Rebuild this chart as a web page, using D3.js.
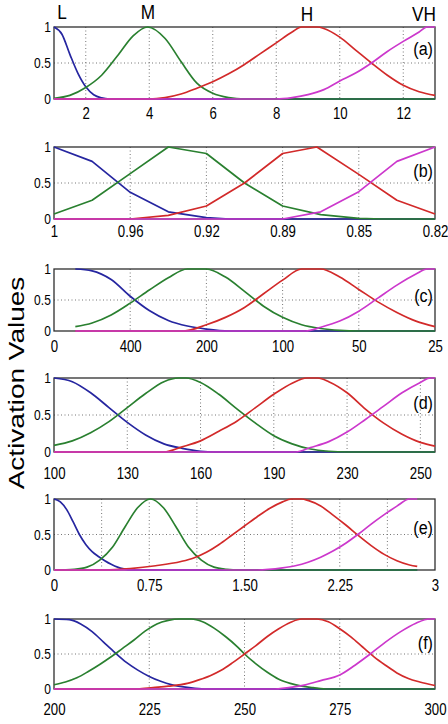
<!DOCTYPE html>
<html>
<head>
<meta charset="utf-8">
<script src="https://cdn.jsdelivr.net/npm/d3@7"></script>
<style>
  html, body { margin: 0; padding: 0; background: #fff; }
  svg { display: block; }
  text { font-family: "Liberation Sans", Arial, Helvetica, sans-serif; }
</style>
</head>
<body>
<svg id="chart"></svg>
<script>
// membership labels shown above the first panel
const memLabels = ['L', 'M', 'H', 'VH'];

// (a) linear axis 1..13
const aTicks = [2, 4, 6, 8, 10, 12];
const aBlue = [[1,1],[1.25,0.9],[1.5,0.62],[1.75,0.36],[2,0.17],[2.25,0.06],[2.5,0.015],[2.75,0],[13,0]];
const aGreen = [[1,0.01],[1.5,0.05],[2,0.16],[2.5,0.33],[3,0.6],[3.5,0.88],[3.95,1],[4.5,0.84],[5,0.52],[5.5,0.22],[6,0.08],[6.5,0.02],[7,0],[13,0]];
const aRed = [[1,0],[4,0],[4.5,0.02],[5,0.07],[5.5,0.15],[6,0.24],[6.5,0.35],[7,0.48],[7.5,0.63],[8,0.78],[8.5,0.93],[8.8,1],[9.3,1],[9.5,0.98],[10,0.86],[10.5,0.68],[11,0.5],[11.5,0.33],[12,0.19],[12.5,0.1],[13,0.05]];
const aMagenta = [[1,0],[8,0],[8.5,0.02],[9,0.06],[9.5,0.13],[10,0.25],[10.5,0.36],[11,0.5],[11.5,0.66],[12,0.8],[12.5,0.93],[12.75,1],[13,1]];

// (b) categorical axis, x given as category index
const bLabels = ['1', '0.96', '0.92', '0.89', '0.85', '0.82'];
const bBlue = [[0,1],[0.5,0.8],[1,0.37],[1.5,0.1],[2,0.02],[2.3,0],[5,0]];
const bGreen = [[0,0.07],[0.5,0.26],[1,0.63],[1.5,1],[2,0.91],[2.5,0.5],[3,0.18],[3.5,0.06],[4,0.01],[4.3,0],[5,0]];
const bRed = [[0,0],[1,0],[1.5,0.05],[2,0.18],[2.5,0.5],[3,0.91],[3.45,1],[4,0.62],[4.5,0.26],[5,0.07]];
const bMagenta = [[0,0],[3,0],[3.5,0.1],[4,0.38],[4.5,0.8],[5,1]];

// (c) categorical axis
const cLabels = ['0', '400', '200', '100', '50', '25'];
const cBlue = [[0.28,1],[0.5,0.97],[0.75,0.83],[1,0.56],[1.25,0.33],[1.5,0.17],[1.75,0.08],[2,0.03],[2.3,0],[5,0]];
const cGreen = [[0.28,0.07],[0.5,0.13],[0.75,0.26],[1,0.45],[1.25,0.66],[1.5,0.86],[1.75,1],[2,1],[2.25,0.87],[2.5,0.64],[2.75,0.4],[3,0.22],[3.25,0.1],[3.5,0.04],[3.75,0.01],[4,0],[5,0]];
const cRed = [[0.28,0],[1.7,0],[2,0.1],[2.25,0.22],[2.5,0.38],[2.75,0.6],[3,0.82],[3.25,1],[3.5,1],[3.75,0.87],[4,0.67],[4.25,0.47],[4.5,0.3],[4.75,0.16],[5,0.07]];
const cMagenta = [[0.28,0],[3.3,0],[3.5,0.06],[3.75,0.16],[4,0.32],[4.25,0.53],[4.5,0.74],[4.75,0.92],[4.9,1],[5,1]];

// (d) categorical axis, plot runs a bit past the last category
const dLabels = ['100', '130', '160', '190', '230', '250'];
const dBlue = [[0,1],[0.25,0.95],[0.5,0.8],[0.75,0.6],[1,0.4],[1.25,0.23],[1.5,0.11],[1.75,0.05],[2,0.01],[2.2,0],[5.2,0]];
const dGreen = [[0,0.09],[0.25,0.15],[0.5,0.26],[0.75,0.41],[1,0.6],[1.25,0.79],[1.5,0.95],[1.7,1],[1.8,1],[2,0.94],[2.25,0.78],[2.5,0.58],[2.75,0.39],[3,0.22],[3.25,0.11],[3.5,0.04],[3.75,0.01],[4,0],[5.2,0]];
const dRed = [[0,0],[1.5,0],[1.75,0.07],[2,0.15],[2.25,0.28],[2.5,0.42],[2.75,0.6],[3,0.78],[3.25,0.93],[3.45,1],[3.6,1],[3.75,0.95],[4,0.8],[4.25,0.58],[4.5,0.39],[4.75,0.24],[5,0.13],[5.2,0.08]];
const dMagenta = [[0,0],[3.3,0],[3.5,0.06],[3.75,0.14],[4,0.27],[4.25,0.44],[4.5,0.62],[4.75,0.8],[5,0.94],[5.13,1],[5.2,1]];

// (e) linear axis 0..3
const eTicks = [0, 0.75, 1.5, 2.25, 3];
const eTickLabels = ['0', '0.75', '1.50', '2.25', '3'];
const eGrid = [0.375, 0.75, 1.125, 1.5, 1.875, 2.25, 2.625];
const eBlue = [[0,1],[0.05,0.96],[0.1,0.85],[0.15,0.68],[0.2,0.5],[0.25,0.36],[0.3,0.26],[0.35,0.19],[0.4,0.13],[0.45,0.08],[0.5,0.04],[0.55,0.015],[0.6,0],[2.86,0]];
const eGreen = [[0,0],[0.16,0.01],[0.26,0.04],[0.36,0.14],[0.46,0.32],[0.56,0.61],[0.66,0.88],[0.76,1],[0.86,0.88],[0.96,0.61],[1.06,0.32],[1.16,0.14],[1.26,0.04],[1.36,0.01],[1.46,0],[2.86,0]];
const eRed = [[0,0],[0.4,0],[0.6,0.02],[0.8,0.06],[1,0.12],[1.1,0.17],[1.2,0.25],[1.3,0.36],[1.4,0.49],[1.5,0.62],[1.6,0.75],[1.7,0.87],[1.8,0.96],[1.87,1],[1.95,1],[2,0.98],[2.1,0.9],[2.2,0.77],[2.3,0.63],[2.4,0.48],[2.5,0.34],[2.6,0.22],[2.7,0.13],[2.8,0.07],[2.86,0.05]];
const eMagenta = [[0,0],[1.6,0],[1.8,0.03],[1.9,0.06],[2,0.11],[2.1,0.18],[2.2,0.27],[2.3,0.38],[2.4,0.51],[2.5,0.65],[2.6,0.78],[2.7,0.9],[2.8,1],[2.86,1]];

// (f) linear axis 200..300
const fTicks = [200, 225, 250, 275, 300];
const fBlue = [[200,1],[204,0.99],[207,0.93],[210,0.82],[213,0.67],[216,0.52],[219,0.38],[222,0.27],[225,0.18],[228,0.11],[231,0.06],[234,0.03],[237,0.01],[240,0],[300,0]];
const fGreen = [[200,0.06],[203,0.1],[206,0.16],[209,0.25],[212,0.35],[215,0.46],[218,0.58],[221,0.7],[224,0.83],[227,0.93],[230,0.98],[233,1],[236,1],[239,0.96],[242,0.87],[245,0.75],[248,0.61],[250,0.5],[253,0.36],[256,0.24],[259,0.14],[262,0.08],[265,0.04],[268,0.02],[272,0],[300,0]];
const fRed = [[200,0],[222,0],[226,0.02],[230,0.04],[235,0.08],[238,0.13],[241,0.19],[244,0.27],[247,0.38],[250,0.5],[253,0.62],[256,0.75],[259,0.86],[262,0.95],[265,1],[269,1],[272,0.96],[275,0.86],[278,0.74],[281,0.6],[284,0.46],[287,0.34],[290,0.23],[293,0.15],[296,0.1],[300,0.05]];
const fMagenta = [[200,0],[258,0],[263,0.03],[266,0.06],[270,0.12],[275,0.2],[279,0.34],[283,0.5],[287,0.67],[291,0.82],[295,0.94],[298.5,1],[300,1]];

const yTicks = [0, 0.5, 1];

// ---- layout ----
const W = 448, H = 724, X0 = 54, X1 = 435;
const SQ = 0.8;                        // lettering is squeezed horizontally
const COLORS = ['#2626a0', '#2a8030', '#d22a2a', '#cc38cc'];
const byIndex = arr => i => arr[i];

const panels = [
  { tag: '(a)', top: 27,  bottom: 99,  lab: 20, tagDy: 28, domain: [1, 13],  ticks: aTicks, fmt: d3.format('d'), grid: aTicks,
    series: [aBlue, aGreen, aRed, aMagenta], curve: d3.curveMonotoneX },
  { tag: '(b)', top: 147, bottom: 219, lab: 18, tagDy: 30, domain: [0, 5],   ticks: d3.range(6), fmt: byIndex(bLabels), grid: [1, 2, 3, 4],
    series: [bBlue, bGreen, bRed, bMagenta], curve: d3.curveLinear },
  { tag: '(c)', top: 269, bottom: 331, lab: 21, tagDy: 33, domain: [0, 5],   ticks: d3.range(6), fmt: byIndex(cLabels), grid: [1, 2, 3, 4],
    series: [cBlue, cGreen, cRed, cMagenta], curve: d3.curveMonotoneX },
  { tag: '(d)', top: 378, bottom: 452, lab: 27, tagDy: 31, domain: [0, 5.2], ticks: d3.range(6), fmt: byIndex(dLabels), grid: [1, 2, 3, 4, 5],
    series: [dBlue, dGreen, dRed, dMagenta], curve: d3.curveMonotoneX },
  { tag: '(e)', top: 499, bottom: 570, lab: 21, tagDy: 35, domain: [0, 3],   ticks: eTicks, fmt: (d, i) => eTickLabels[i], grid: eGrid,
    series: [eBlue, eGreen, eRed, eMagenta], curve: d3.curveMonotoneX },
  { tag: '(f)', top: 619, bottom: 689, lab: 26, tagDy: 30, domain: [200, 300], ticks: fTicks, fmt: d3.format('d'), grid: [225, 250, 275],
    series: [fBlue, fGreen, fRed, fMagenta], curve: d3.curveMonotoneX }
];

const svg = d3.select('#chart').attr('width', W).attr('height', H);
svg.append('rect').attr('width', W).attr('height', H).attr('fill', '#fff');

panels.forEach((p, k) => {
  const x = d3.scaleLinear().domain(p.domain).range([X0, X1]);
  const y = d3.scaleLinear().domain([0, 1]).range([p.bottom, p.top]);
  const g = svg.append('g');

  svg.append('clipPath').attr('id', 'clip' + k).append('rect')
    .attr('x', X0 - 1).attr('y', p.top - 1.5)
    .attr('width', X1 - X0 + 2).attr('height', p.bottom - p.top + 3);

  // dotted grid
  g.append('g').selectAll('line').data(p.grid).join('line')
    .attr('x1', d => x(d)).attr('x2', d => x(d))
    .attr('y1', p.top).attr('y2', p.bottom)
    .attr('stroke', '#666').attr('stroke-width', 0.9).attr('stroke-dasharray', '1,2.5');
  g.append('line')
    .attr('x1', X0).attr('x2', X1).attr('y1', y(0.5)).attr('y2', y(0.5))
    .attr('stroke', '#666').attr('stroke-width', 0.9).attr('stroke-dasharray', '1,2.5');

  // box
  g.append('rect').attr('x', X0).attr('y', p.top)
    .attr('width', X1 - X0).attr('height', p.bottom - p.top)
    .attr('fill', 'none').attr('stroke', '#2e2e2e').attr('stroke-width', 1.3);

  // membership curves
  const line = d3.line().x(d => x(d[0])).y(d => y(d[1])).curve(p.curve);
  g.append('g').attr('clip-path', `url(#clip${k})`)
    .selectAll('path').data(p.series).join('path')
    .attr('d', line).attr('fill', 'none')
    .attr('stroke', (d, i) => COLORS[i]).attr('stroke-width', 1.7)
    .attr('stroke-linejoin', 'round');

  // x axis labels
  const xa = g.append('g').attr('transform', `translate(0,${p.bottom})`)
    .call(d3.axisBottom(x).tickValues(p.ticks).tickFormat(p.fmt).tickSize(0));
  xa.select('.domain').remove();
  xa.attr('font-family', null).attr('font-size', null);
  xa.selectAll('text').attr('y', p.lab).attr('dy', null)
    .attr('font-size', 16.5).attr('fill', '#000')
    .attr('transform', `scale(${SQ},1)`);

  // y axis labels
  const ya = g.append('g').attr('transform', `translate(${X0},0)`)
    .call(d3.axisLeft(y).tickValues(yTicks).tickFormat(d3.format('')).tickSize(0).tickPadding(4));
  ya.select('.domain').remove();
  ya.attr('font-family', null).attr('font-size', null);
  ya.selectAll('text').attr('font-size', 15).attr('fill', '#000')
    .attr('transform', `scale(${SQ},1)`);

  // panel tag
  g.append('text')
    .attr('transform', `translate(${X1 - 2},${p.top + p.tagDy}) scale(${SQ + 0.05},1)`)
    .attr('text-anchor', 'end').attr('font-size', 19).attr('fill', '#000')
    .text(p.tag);
});

// L / M / H / VH above panel (a)
const memPos = [[62, 19], [148, 19], [307, 21], [424, 21]];
svg.append('g').selectAll('text').data(memLabels).join('text')
  .attr('transform', (d, i) => `translate(${memPos[i][0]},${memPos[i][1]}) scale(0.82,1)`)
  .attr('text-anchor', 'middle').attr('font-size', 21).attr('fill', '#000')
  .text(d => d);

// shared y label
svg.append('text')
  .attr('transform', `translate(24,383) scale(${SQ},1) rotate(-90)`)
  .attr('text-anchor', 'middle').attr('font-size', 28).attr('fill', '#000')
  .text('Activation Values');
</script>
</body>
</html>
